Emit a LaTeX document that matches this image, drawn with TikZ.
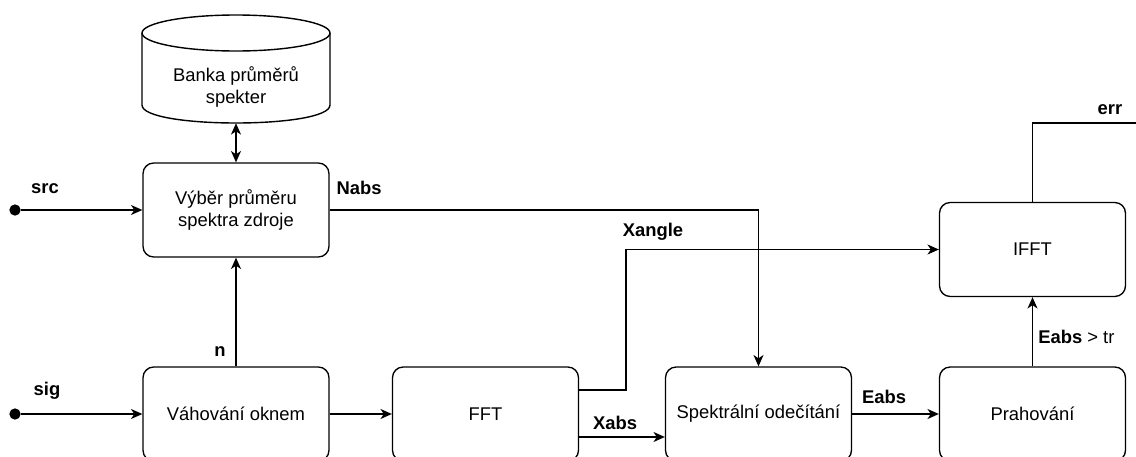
\documentclass[tikz,border=0pt]{standalone}
\usepackage{fontspec}
\setmainfont{Liberation Sans}
\usetikzlibrary{arrows.meta}
\begin{document}
\begin{tikzpicture}[x=0.75pt,y=-0.75pt,
  blok/.style={draw, line width=1pt, rounded corners=8pt, minimum width=139.5pt,
    minimum height=70.5pt, inner sep=0pt, align=center,
    font=\fontsize{13.8}{16}\selectfont},
  txt/.style={inner sep=0pt, align=center, font=\fontsize{13.8}{16}\selectfont},
  lbl/.style={inner sep=0pt, font=\fontsize{13.8}{16}\selectfont\bfseries},
  tip/.tip={Stealth[length=8.5pt,width=7.5pt,inset=2.5pt]},
  wire/.style={line width=1.05pt},
  arr/.style={wire, -tip},
  pin/.style={circle, fill, inner sep=0pt, minimum size=8.5pt}
]
\path[use as bounding box, clip] (0,0) rectangle (1136,457);

% database cylinder
\node[minimum width=141pt, minimum height=81pt, inner sep=0pt] (bank) at (236,69) {};
\draw[wire, fill=white] (142,33) -- (142,105) .. controls (142,129) and (330,129) .. (330,105) -- (330,33);
\draw[wire] (236,33) ellipse [x radius=94, y radius=18];
\node[txt] (banktxt) at (236,87) {Banka průměrů\\spekter};

% processing blocks
\node[blok] (vyber) at (236,210) {Výběr průměru\\spektra zdroje};
\node[blok] (vah)   at (236,414) {Váhování oknem};
\node[blok] (fft)   at (485.5,414) {FFT};
\node[blok] (spek)  at (758.5,414) {Spektrální odečítání};
\node[blok] (prah)  at (1032.5,414) {Prahování};
\node[blok] (ifft)  at (1032.5,249.5) {IFFT};

% inputs
\node[pin] (src) at (15,210) {};
\node[pin] (sig) at (15,414) {};
\draw[arr] (src) -- (vyber.west);
\draw[arr] (sig) -- (vah.west);
\node[lbl] (srcl) at (45,189) {src};
\node[lbl] (sigl) at (47,391) {sig};

% connections
\draw[wire, tip-tip] (bank.south) -- (vyber.north);
\draw[arr] (vah.north) -- (vyber.south);
\node[lbl] (nl) at (220,352) {n};
\draw[arr] (vah.east) -- (fft.west);

\coordinate (nabsc) at (758.5,210);
\draw[arr] (vyber.east) -- (nabsc) -- (spek.north);
\node[lbl] (nabsl) at (359,188) {Nabs};

\coordinate (xang) at (626,390);
\draw[arr] (fft.east |- xang) -- (xang) -- (xang |- ifft.west) -- (ifft.west);
\node[lbl] (xangl) at (653,232) {Xangle};

\coordinate (xabs) at (600,437);
\draw[arr] (fft.east |- xabs) -- (spek.west |- xabs);
\node[lbl] (xabsl) at (615,423) {Xabs};

\draw[arr] (spek.east) -- (prah.west);
\node[lbl] (eabsl) at (884,397) {Eabs};

\draw[arr] (prah.north) -- (ifft.south);
\node[lbl, anchor=west] (trl) at (1038,337) {Eabs\mdseries\ > tr};

\coordinate (errc) at (1032.5,123);
\coordinate (errout) at (1136,123);
\draw[wire] (ifft.north) -- (errc) -- (errout);
\node[lbl] (errl) at (1110,110) {err};
\end{tikzpicture}
\end{document}
